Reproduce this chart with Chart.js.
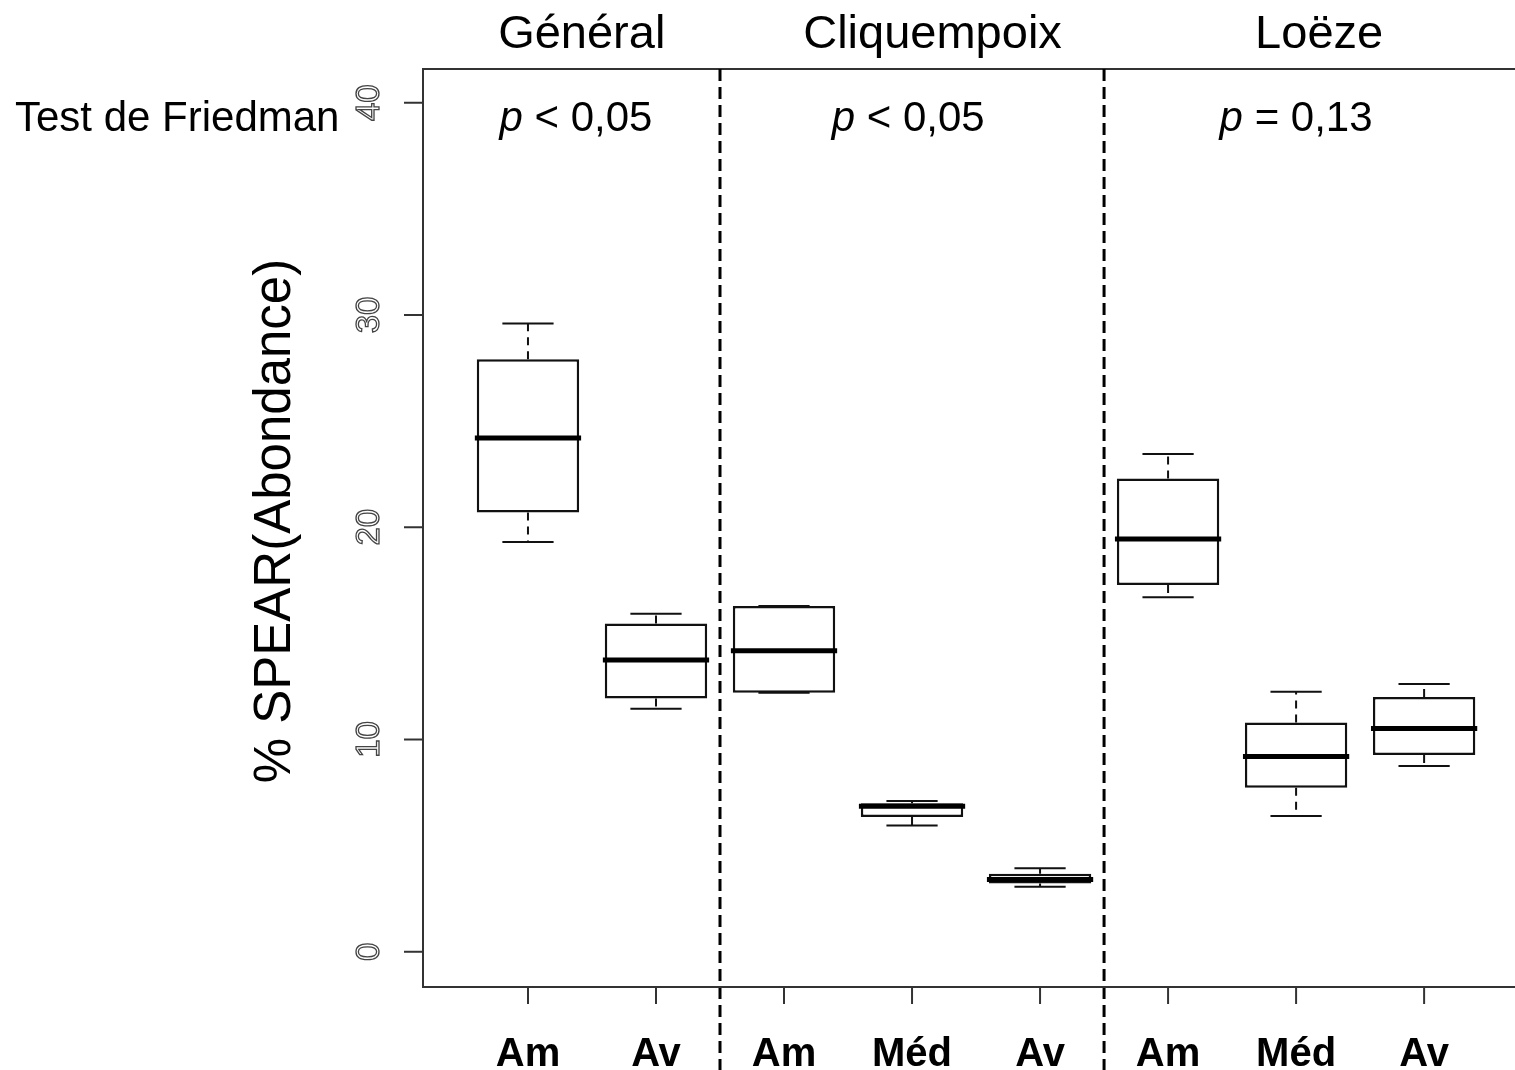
<!DOCTYPE html>
<html>
<head>
<meta charset="utf-8">
<script src="https://cdn.jsdelivr.net/npm/chart.js@4.4.0/dist/chart.umd.min.js"></script>
<style>
body { margin: 0; background: #fff; }
#boxChart { display: block; }
</style>
</head>
<body>
<canvas id="boxChart" width="1515" height="1070"></canvas>
<script>
// one entry per box, in plot order
var sites = ["Général", "Général", "Cliquempoix", "Cliquempoix", "Cliquempoix", "Loëze", "Loëze", "Loëze"];
var stations = ["Am", "Av", "Am", "Méd", "Av", "Am", "Méd", "Av"];

// five-number summaries
var whiskerLow  = [19.3, 11.45, 12.2, 5.95, 3.06, 16.7, 6.4, 8.75];
var q1          = [20.7, 11.93, 12.2, 6.35, 3.22, 17.28, 7.73, 9.27];
var medians     = [24.2, 13.75, 14.18, 6.85, 3.4, 19.45, 9.2, 10.52];
var q3          = [27.92, 15.47, 16.29, 7.0, 3.68, 22.3, 10.8, 12.0];
var whiskerHigh = [29.6, 15.93, 16.29, 7.1, 3.93, 23.45, 12.25, 12.61];

var yTicks = [0, 10, 20, 30, 40];
var groups = ["Général", "Cliquempoix", "Loëze"];
var pSigns = ["<", "<", "="];
var pValues = ["0,05", "0,05", "0,13"];

var FONT = "'Liberation Sans', Arial, sans-serif";

var ctx = document.getElementById("boxChart").getContext("2d");

function px(chart, v) { return chart.scales.x.getPixelForValue(v); }
function py(chart, v) { return chart.scales.y.getPixelForValue(v); }

// text with an italic "p" in front
function drawPText(c, sign, value, cx, baseline) {
    var italic = "italic 42px " + FONT, normal = "42px " + FONT;
    var rest = " " + sign + " " + value;
    c.font = italic;
    var w1 = c.measureText("p").width;
    c.font = normal;
    var w2 = c.measureText(rest).width;
    var x0 = cx - (w1 + w2) / 2;
    c.textAlign = "left";
    c.font = italic;
    c.fillText("p", x0, baseline);
    c.font = normal;
    c.fillText(rest, x0 + w1, baseline);
}

var boxPlotPlugin = {
    id: "boxPlot",
    beforeDatasetsDraw: function (chart) {
        var c = chart.ctx, a = chart.chartArea;
        c.save();
        // plot frame, right side runs off the canvas
        c.strokeStyle = "#333";
        c.lineWidth = 2;
        c.beginPath();
        c.moveTo(a.right + 5, a.top);
        c.lineTo(a.left, a.top);
        c.lineTo(a.left, a.bottom);
        c.lineTo(a.right + 5, a.bottom);
        c.stroke();

        // whiskers and caps
        c.strokeStyle = "#111";
        c.lineWidth = 2;
        for (var i = 0; i < q1.length; i++) {
            var xc = px(chart, i + 1);
            var half = px(chart, i + 1.2) - xc;
            c.setLineDash([8, 6]);
            c.beginPath();
            c.moveTo(xc, py(chart, q3[i]));
            c.lineTo(xc, py(chart, whiskerHigh[i]));
            c.moveTo(xc, py(chart, q1[i]));
            c.lineTo(xc, py(chart, whiskerLow[i]));
            c.stroke();
            c.setLineDash([]);
            c.beginPath();
            c.moveTo(xc - half, py(chart, whiskerHigh[i]));
            c.lineTo(xc + half, py(chart, whiskerHigh[i]));
            c.moveTo(xc - half, py(chart, whiskerLow[i]));
            c.lineTo(xc + half, py(chart, whiskerLow[i]));
            c.stroke();
        }
        c.restore();
    },
    afterDatasetsDraw: function (chart) {
        var c = chart.ctx;
        c.save();
        c.strokeStyle = "#000";
        c.lineWidth = 5;
        for (var i = 0; i < medians.length; i++) {
            var y = py(chart, medians[i]);
            c.beginPath();
            c.moveTo(px(chart, i + 1 - 0.415), y);
            c.lineTo(px(chart, i + 1 + 0.415), y);
            c.stroke();
        }
        c.restore();
    },
    afterDraw: function (chart) {
        var c = chart.ctx, a = chart.chartArea;
        c.save();

        // dashed separators between sites
        c.strokeStyle = "#000";
        c.lineWidth = 3;
        c.setLineDash([12, 6]);
        for (var i = 0; i < sites.length - 1; i++) {
            if (sites[i] !== sites[i + 1]) {
                var xs = px(chart, i + 1.5);
                c.beginPath();
                c.moveTo(xs, a.top);
                c.lineTo(xs, chart.height);
                c.stroke();
            }
        }
        c.setLineDash([]);

        // y axis ticks and rotated outline labels
        c.strokeStyle = "#333";
        c.lineWidth = 2;
        yTicks.forEach(function (t) {
            var y = py(chart, t);
            c.beginPath();
            c.moveTo(a.left - 19, y);
            c.lineTo(a.left, y);
            c.stroke();
            c.save();
            c.translate(a.left - 53, y);
            c.rotate(-Math.PI / 2);
            c.font = "33px " + FONT;
            c.textAlign = "center";
            c.textBaseline = "middle";
            c.lineWidth = 1.3;
            c.strokeStyle = "#444";
            c.strokeText(String(t), 0, 0);
            c.restore();
        });

        // x axis ticks and station labels
        c.beginPath();
        c.moveTo(px(chart, 1), a.bottom);
        c.lineTo(px(chart, stations.length), a.bottom);
        c.stroke();
        c.fillStyle = "#000";
        c.font = "bold 40px " + FONT;
        c.textAlign = "center";
        c.textBaseline = "alphabetic";
        stations.forEach(function (s, i) {
            var x = px(chart, i + 1);
            c.beginPath();
            c.moveTo(x, a.bottom);
            c.lineTo(x, a.bottom + 17);
            c.stroke();
            c.fillText(s, x, 1066);
        });

        // site names above the frame
        var groupX = [1.42, 4.16, 7.18];
        c.font = "47px " + FONT;
        groups.forEach(function (g, i) {
            c.fillText(g, px(chart, groupX[i]), 48);
        });

        // Friedman test results
        c.font = "42px " + FONT;
        c.textAlign = "left";
        c.fillText("Test de Friedman", 15, 131);
        var pX = [1.375, 3.97, 7.0];
        pValues.forEach(function (v, i) {
            drawPText(c, pSigns[i], v, px(chart, pX[i]), 131);
        });

        // y axis title
        c.save();
        c.translate(290, 521);
        c.rotate(-Math.PI / 2);
        c.font = "51px " + FONT;
        c.textAlign = "center";
        c.textBaseline = "alphabetic";
        c.fillText("% SPEAR(Abondance)", 0, 0);
        c.restore();

        c.restore();
    }
};

var boxChart = new Chart(ctx, {
    type: "bar",
    data: {
        datasets: [{
            label: "% SPEAR",
            data: q1.map(function (v, i) { return { x: i + 1, y: [v, q3[i]] }; }),
            backgroundColor: "#fff",
            borderColor: "#111",
            borderWidth: 2.5,
            borderSkipped: false,
            barPercentage: 0.8,
            categoryPercentage: 1.0
        }]
    },
    options: {
        responsive: false,
        animation: false,
        layout: {
            padding: { left: 423, top: 69, right: 0, bottom: 83 }
        },
        plugins: {
            legend: { display: false },
            tooltip: { enabled: false }
        },
        scales: {
            x: {
                type: "linear", min: 0.18, max: 8.71, offset: false, display: false,
                grid: { offset: false },
                // one tick per box so the bar width is based on box spacing
                afterBuildTicks: function (axis) {
                    axis.ticks = stations.map(function (s, i) { return { value: i + 1 }; });
                }
            },
            y: { min: -1.66, max: 41.59, display: false }
        }
    },
    plugins: [boxPlotPlugin]
});
</script>
</body>
</html>
